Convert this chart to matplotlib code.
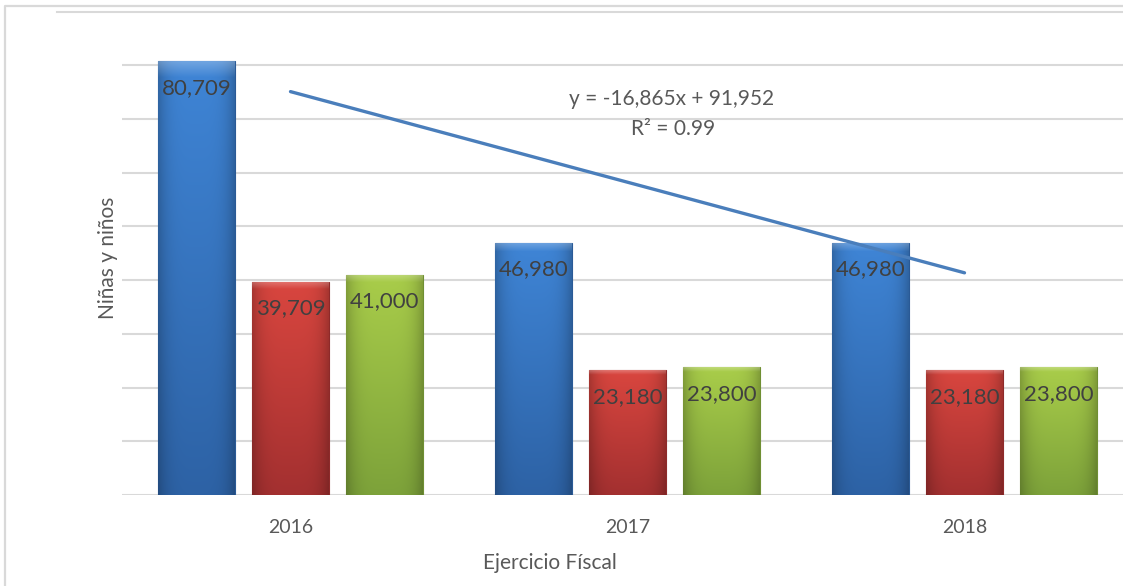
import numpy as np
import matplotlib
matplotlib.use("Agg")
import matplotlib.pyplot as plt
from matplotlib.colors import to_rgb
from matplotlib.lines import Line2D

plt.rcParams['font.family'] = ['Lato', 'DejaVu Sans']

years = ["2016", "2017", "2018"]
serie_a = [80709, 46980, 46980]
serie_b = [39709, 23180, 23180]
serie_c = [41000, 23800, 23800]
labels_a = ["80,709", "46,980", "46,980"]
labels_b = ["39,709", "23,180", "23,180"]
labels_c = ["41,000", "23,800", "23,800"]
trend_eq = "y = -16,865x + 91,952"
trend_r2 = "R² = 0.99"

W, H = 1123, 586
fig = plt.figure(figsize=(W / 100, H / 100), dpi=100)
fig.patch.set_facecolor("white")

ax_left = 122 / W
ax_bottom = (H - 495) / H
ax_top = (H - 11.5) / H
ax = fig.add_axes([ax_left, ax_bottom, 1011 / W, ax_top - ax_bottom])
ax.set_xlim(-0.5, 2.5)
ax.set_ylim(0, 90000)
ax.set_yticks(np.arange(0, 90001, 10000))
ax.set_yticklabels([])
ax.tick_params(axis='y', length=0)
ax.tick_params(axis='x', length=0, pad=17, labelsize=14, labelcolor="#595959")
ax.grid(axis='y', color="#d9d9d9", linewidth=1.5)
ax.set_axisbelow(True)
for s in ax.spines.values():
    s.set_visible(False)

# top gridline (extends further left in the reference)
fig.add_artist(Line2D([57 / W, 1.0], [1 - 11.5 / H, 1 - 11.5 / H],
                      transform=fig.transFigure, color="#d9d9d9", linewidth=1.5))

x = np.arange(len(years))
off = 0.279
bw = 0.228

def shade_bar(bar, top_col, bot_col):
    x0 = bar.get_x(); w = bar.get_width(); h = bar.get_height()
    ny, nx = 200, 60
    t = np.linspace(0, 1, ny)[:, None]
    top = np.array(to_rgb(top_col)); bot = np.array(to_rgb(bot_col))
    base = top[None, None, :] * (1 - t[..., None]) + bot[None, None, :] * t[..., None]
    u = np.linspace(0, 1, nx)[None, :]
    hf = 1 - 0.22 * (np.abs(u - 0.5) * 2) ** 4
    img = base * hf[..., None]
    bevel = np.clip(1 - np.linspace(0, 1, ny) / 0.035, 0, 1)[:, None]
    img = img + (1 - img) * 0.25 * bevel[..., None]
    img = np.clip(img, 0, 1)
    im = ax.imshow(img, extent=[x0, x0 + w, 0, h], origin='upper',
                   aspect='auto', zorder=2, interpolation='bilinear')
    im.set_clip_path(bar)

series = [
    (serie_a, labels_a, -off, "#3f85d6", "#2d62a5", "#2a5a96"),
    (serie_b, labels_b, 0.0, "#d9463f", "#a33030", "#8e2a2a"),
    (serie_c, labels_c, off, "#a9cd4a", "#7da23a", "#6f8f33"),
]
for vals, labs, o, tc, bc, ec in series:
    bars = ax.bar(x + o, vals, width=bw, color=bc, edgecolor=ec,
                  linewidth=0.8, zorder=2)
    for b, lab in zip(bars, labs):
        shade_bar(b, tc, bc)
        ax.annotate(lab, (b.get_x() + b.get_width() / 2, b.get_height()),
                    xytext=(0, -12), textcoords='offset points',
                    ha='center', va='top', fontsize=16, color="#404040",
                    zorder=4)

# linear trendline of first series
p = np.polyfit(x + 1, serie_a, 1)
ax.plot(x, np.polyval(p, x + 1), color="#4a7ebb", linewidth=2.4, zorder=3,
        solid_capstyle='round')

fig.text(672 / W, 1 - 99 / H, trend_eq, ha='center', va='center',
         fontsize=15, color="#595959")
fig.text(673 / W, 1 - 129 / H, trend_r2, ha='center', va='center',
         fontsize=15, color="#595959")

ax.set_xticks(x)
ax.set_xticklabels(years)

fig.text(108 / W, 1 - 258 / H, "Niñas y niños", rotation=90, ha='center',
         va='center', fontsize=15, color="#595959")
fig.text(550 / W, 1 - 563 / H, "Ejercicio Físcal", ha='center', va='center',
         fontsize=15, color="#595959")

# outer chart frame
fig.add_artist(Line2D([5 / W, 5 / W, 1.0], [0.0, 1 - 6 / H, 1 - 6 / H],
                      transform=fig.transFigure, color="#d9d9d9", linewidth=1.6))

fig.savefig("out.png", dpi=100)
